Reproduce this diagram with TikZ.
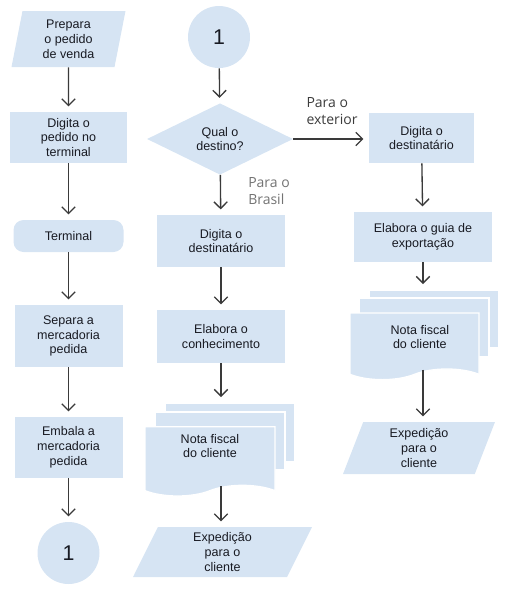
\documentclass[tikz,border=0pt]{standalone}
\usepackage{fontspec}
\setmainfont{Liberation Sans}
\newfontfamily\labelfont{Open Sans}
\usetikzlibrary{shapes.geometric,shapes.symbols,arrows.meta,calc}
\definecolor{boxblue}{RGB}{214,228,243}
\definecolor{inkgray}{RGB}{58,58,58}
\definecolor{txtdark}{RGB}{24,26,34}
\definecolor{lbldark}{RGB}{60,60,60}
\definecolor{lblgray}{RGB}{115,115,115}

\begin{document}
\begin{tikzpicture}[x=0.75pt, y=-0.75pt, font=\fontsize{9.4}{11.1}\selectfont]
\tikzset{
  blockfill/.style={fill=boxblue, text=txtdark, align=center, inner sep=1pt},
  procbox/.style={blockfill, rectangle},
  termbox/.style={blockfill, rectangle, rounded corners=7.5pt},
  connbox/.style={blockfill, circle, minimum size=46.5pt, inner sep=0pt, font=\fontsize{16}{18}\selectfont},
  decbox/.style={blockfill, diamond, inner sep=0pt},
  iobox/.style 2 args={blockfill, trapezium, trapezium left angle=#1, trapezium right angle=#2, trapezium stretches body},
  sheetbox/.style={fill=boxblue, draw=white, line width=1pt, rectangle},
  docbox/.style={fill=boxblue, draw=white, line width=1pt, tape, tape bend top=none, tape bend bottom=in and out, tape bend height=8pt},
  doctext/.style={text=txtdark, align=center, inner sep=0pt},
  flowarrow/.style={draw=inkgray, line width=1pt, -{Straight Barb[length=5pt,width=10pt]}, shorten >=4pt},
  branchlbl/.style={font=\labelfont\fontsize{10.5}{13}\selectfont, align=left, inner sep=0pt}
}
\useasboundingbox (0,0) rectangle (527,611);

\node[iobox={75}{105}, minimum width=85.5pt, minimum height=42pt] (prep) at (68.5,39) {Prepara\\o pedido\\de venda};
\node[procbox, minimum width=87.75pt, minimum height=38.25pt] (digped) at (68.5,137.5) {Digita o\\pedido no\\terminal};
\node[termbox, minimum width=82.5pt, minimum height=24pt] (term) at (68.5,236) {Terminal};
\node[procbox, minimum width=81pt, minimum height=46.5pt] (separa) at (68.5,336) {Separa a\\mercadoria\\pedida};
\node[procbox, minimum width=81pt, minimum height=45.75pt] (embala) at (68.5,447.5) {Embala a\\mercadoria\\pedida};
\node[connbox] (conA) at (68.5,553) {1};

\node[connbox] (conB) at (219,37) {1};
\node[decbox, minimum width=109.5pt, minimum height=51pt] (destino) at (220,139) {Qual o\\destino?};
\node[procbox, minimum width=96pt, minimum height=39pt] (destBR) at (221,241) {Digita o\\destinatário};
\node[procbox, minimum width=96pt, minimum height=39.75pt] (conhec) at (221,336.5) {Elabora o\\conhecimento};
\node[sheetbox, minimum width=97.5pt, minimum height=44.25pt] (nfBRc) at (230,432.5) {};
\node[sheetbox, minimum width=97.5pt, minimum height=43.5pt] (nfBRb) at (220,441) {};
\node[docbox, minimum width=97.5pt, minimum height=52pt,
  label={[doctext, yshift=7.5pt]center:{Nota fiscal\\do cliente}}] (nfBR) at (210,456) {};
\node[iobox={59}{121}, minimum width=134.25pt, minimum height=37.5pt] (expBR) at (222.5,552) {Expedição\\para o\\cliente};

\node[procbox, minimum width=78.75pt, minimum height=37.5pt] (destEX) at (421.5,138) {Digita o\\destinatário};
\node[procbox, minimum width=103.5pt, minimum height=37.5pt] (guia) at (423,237) {Elabora o guia de\\exportação};
\node[sheetbox, minimum width=97.5pt, minimum height=43.5pt] (nfEXc) at (434,319) {};
\node[sheetbox, minimum width=97.5pt, minimum height=44.25pt] (nfEXb) at (424,327.5) {};
\node[docbox, minimum width=96.75pt, minimum height=50pt,
  label={[doctext, xshift=4pt, yshift=3pt]center:{Nota fiscal\\do cliente}}] (nfEX) at (414.5,341) {};
\node[iobox={64}{116}, minimum width=114pt, minimum height=39pt] (expEX) at (419,448) {Expedição\\para o\\cliente};

\node[branchlbl, text=lbldark, anchor=south west] (lblEX) at ($(destino.east)+(13,-14)$) {Para o\\exterior};
\node[branchlbl, text=lblgray, anchor=north west] (lblBR) at ($(destino.south)+(28,2)$) {Para o\\Brasil};

\draw[flowarrow] (prep) -- (digped);
\draw[flowarrow] (digped) -- (term);
\draw[flowarrow] (term) -- (separa);
\draw[flowarrow] (separa) -- (embala);
\draw[flowarrow] (embala) -- (conA);
\draw[flowarrow] (conB) -- (destino);
\draw[flowarrow] (destino) -- (destBR);
\draw[flowarrow] (destino.east) -- (destino.east -| destEX.west);
\draw[flowarrow] (destBR) -- (conhec);
\draw[flowarrow] (conhec.south) -- (conhec.south |- nfBRc.north);
\draw[flowarrow] (nfBR.south -| conhec.south) -- (conhec.south |- expBR.north);
\draw[flowarrow] (destEX) -- (guia);
\draw[flowarrow] (guia.south) -- (guia.south |- nfEXc.north);
\draw[flowarrow] (nfEX.south -| guia.south) -- (guia.south |- expEX.north);
\end{tikzpicture}
\end{document}
